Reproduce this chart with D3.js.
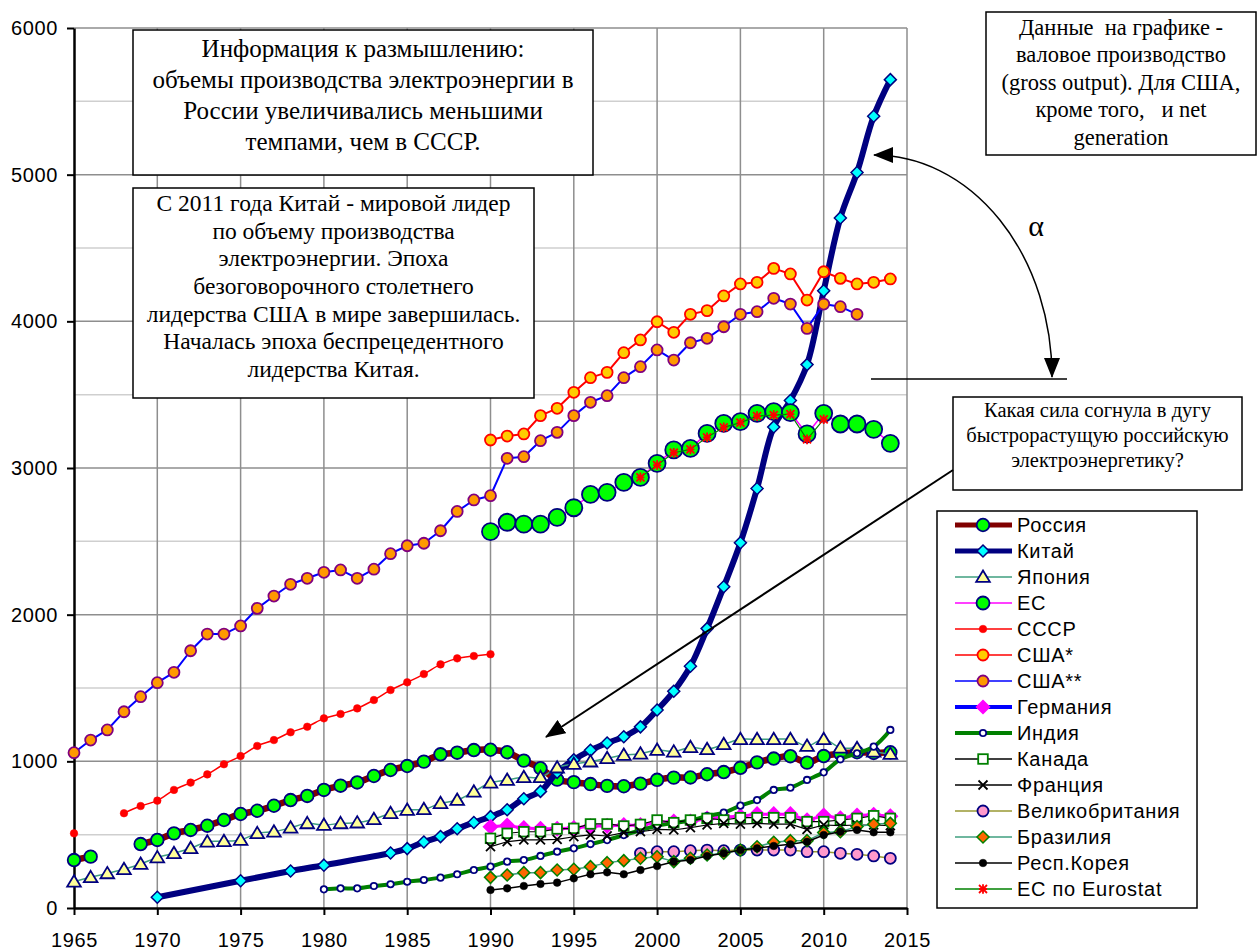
<!DOCTYPE html>
<html>
<head>
<meta charset="utf-8">
<script src="https://cdn.jsdelivr.net/npm/d3@7"></script>
<style>
  body { margin: 0; background: #fff; }
  svg { display: block; }
</style>
</head>
<body>
<div id="chart"></div>
<script>
// ---- data (TWh) ----
const xTicks = [1965, 1970, 1975, 1980, 1985, 1990, 1995, 2000, 2005, 2010, 2015];
const yTicks = [0, 1000, 2000, 3000, 4000, 5000, 6000];
const yMinor = [500, 1500, 2500, 3500, 4500, 5500];

const russia = [327, 350, null, null, 436, 464, 509, 532, 561, 600, 641, 663, 697, 736, 764, 805, 834, 856, 900, 941,
  968, 998, 1048, 1059, 1077, 1079, 1062, 1005, 953, 875, 858, 845, 833, 830, 848, 874, 889, 890, 912, 927,
  956, 993, 1019, 1035, 991, 1036, 1053, 1062, 1057, 1062]; // 1965..2014
const chinaYears = [1970, 1975, 1978, 1980, 1984, 1985, 1986, 1987, 1988, 1989, 1990, 1991, 1992, 1993, 1994, 1995,
  1996, 1997, 1998, 1999, 2000, 2001, 2002, 2003, 2004, 2005, 2006, 2007, 2008, 2009, 2010, 2011, 2012, 2013, 2014];
const china = [73, 186, 252, 292, 375, 405, 450, 487, 540, 583, 623, 670, 745, 795, 925, 1010,
  1075, 1125, 1168, 1235, 1350, 1478, 1648, 1905, 2190, 2490, 2860, 3280, 3460, 3705, 4208, 4705, 5015, 5398, 5648];
const japan = [179, 209, 236, 264, 300, 345, 373, 407, 452, 455, 464, 509, 520, 547, 577, 566, 577, 582, 605, 646,
  668, 673, 714, 736, 793, 854, 873, 891, 891, 957, 982, 998, 1021, 1043, 1052, 1077, 1066, 1096, 1082, 1116,
  1150, 1150, 1150, 1150, 1105, 1150, 1093, 1089, 1066, 1050]; // 1965..2014
const eu = [2566, 2630, 2618, 2618, 2664, 2729, 2820, 2834, 2902, 2936, 3032, 3123, 3134, 3236, 3304, 3316,
  3373, 3384, 3377, 3232, 3373, 3300, 3300, 3264, 3168]; // 1990..2014
const ussr = [509, null, null, 646, 695, 732, 805, 855, 911, 980, 1036, 1105, 1145, 1198, 1236, 1293, 1323, 1361,
  1418, 1486, 1539, 1595, 1661, 1702, 1718, 1730]; // 1965..1990
const usaGross = [3191, 3218, 3232, 3357, 3407, 3516, 3616, 3652, 3786, 3873, 3997, 3925, 4048, 4073, 4173, 4255,
  4266, 4361, 4323, 4145, 4338, 4293, 4255, 4266, 4289]; // 1990..2014
const usaNet = [1059, 1145, 1214, 1338, 1441, 1536, 1607, 1754, 1868, 1868, 1923, 2043, 2127, 2207, 2248, 2289,
  2305, 2248, 2310, 2416, 2470, 2487, 2572, 2704, 2782, 2811, 3066, 3077, 3186, 3243, 3357, 3448, 3493, 3616,
  3691, 3805, 3736, 3854, 3884, 3963, 4048, 4066, 4157, 4118, 3952, 4118, 4100, 4048]; // 1965..2012
const germany = [554, 562, 545, 540, 540, 545, 558, 560, 565, 565, 582, 590, 590, 610, 620, 625, 640, 640, 640,
  598, 630, 612, 630, 635, 625]; // 1990..2014
const india = [127, 134, 134, 150, 162, 179, 191, 207, 230, 259, 282, 316, 327, 355, 384, 407, 436, 463, 497, 530,
  561, 579, 597, 627, 650, 698, 736, 805, 820, 873, 925, 1014, 1055, 1100, 1214]; // 1980..2014
const canada = [475, 509, 520, 520, 539, 543, 573, 573, 559, 570, 600, 582, 600, 611, 600, 616, 616, 616, 616,
  589, 589, 600, 611, 629, 611]; // 1990..2014
const france = [418, 452, 464, 464, 468, 486, 498, 491, 514, 520, 536, 532, 548, 566, 577, 572, 577, 572, 572,
  536, 566, 561, 566, 566, 561]; // 1990..2014
const uk = [373, 384, 384, 391, 395, 391, 395, 395, 395, 395, 384, 384, 373, 366, 355, 339]; // 1999..2014
const brazil = [209, 225, 241, 241, 259, 264, 282, 309, 323, 339, 350, 316, 339, 361, 373, 395, 418, 448, 459,
  459, 514, 520, 555, 571, 577]; // 1990..2014
const korea = [123, 134, 150, 164, 173, 202, 230, 243, 230, 259, 286, 316, 327, 355, 373, 395, 407, 423, 434,
  452, 498, 520, 532, 516, 516]; // 1990..2014
const euEurostat = [2936, 3020, 3104, 3127, 3209, 3277, 3309, 3354, 3361, 3368, 3195, 3332]; // 1999..2010

const series = [
  { name: "Россия", start: 1965, values: russia, line: "#800000", lw: 6.5, smooth: true,
    mk: "circle", size: 6.3, fill: "#00ff00", stroke: "#000080", lgLw: 5 },
  { name: "Китай", years: chinaYears, values: china, line: "#000080", lw: 6, smooth: true,
    mk: "diamond", size: 6, fill: "#00ffff", stroke: "#000080", lgLw: 5 },
  { name: "Япония", start: 1965, values: japan, line: "#3f9f7f", lw: 1.5, smooth: true,
    mk: "triangle", size: 6.5, fill: "#ffff99", stroke: "#000080" },
  { name: "ЕС", start: 1990, values: eu, line: "#ff00ff", lw: 1.5,
    mk: "circle", size: 8.5, fill: "#00ff00", stroke: "#000080", lgSize: 6.5 },
  { name: "СССР", start: 1965, values: ussr, line: "#ff0000", lw: 1.5, smooth: true,
    mk: "dot", size: 3.8, fill: "#ff0000", stroke: "#ff0000" },
  { name: "США*", start: 1990, values: usaGross, line: "#ff0000", lw: 2,
    mk: "circle", size: 5.5, fill: "#ffcc00", stroke: "#ff0000" },
  { name: "США**", start: 1965, values: usaNet, line: "#0000ff", lw: 2,
    mk: "circle", size: 5.5, fill: "#ff9900", stroke: "#800080" },
  { name: "Германия", start: 1990, values: germany, line: "#ff00ff", lw: 3, lgLine: "#0000ff",
    mk: "diamond", size: 7, fill: "#ff00ff", stroke: "#ff00ff", lgLw: 4 },
  { name: "Индия", start: 1980, values: india, line: "#008000", lw: 4, smooth: true,
    mk: "circle", size: 3.2, fill: "#ffffff", stroke: "#000080", lgLw: 4 },
  { name: "Канада", start: 1990, values: canada, line: "#000000", lw: 1.2,
    mk: "square", size: 4.8, fill: "#ffffff", stroke: "#008000" },
  { name: "Франция", start: 1990, values: france, line: "#000000", lw: 1.2,
    mk: "x", size: 4.5, fill: "none", stroke: "#000000" },
  { name: "Великобритания", start: 1999, values: uk, line: "#999933", lw: 1.5,
    mk: "circle", size: 5.5, fill: "#ff99cc", stroke: "#000080" },
  { name: "Бразилия", start: 1990, values: brazil, line: "#3f9f7f", lw: 1.5,
    mk: "diamond", size: 6, fill: "#ff6600", stroke: "#008000" },
  { name: "Респ.Корея", start: 1990, values: korea, line: "#000000", lw: 1.5,
    mk: "dot", size: 3.8, fill: "#000000", stroke: "#000000" },
  { name: "ЕС по Eurostat", start: 1999, values: euEurostat, line: "#008000", lw: 1.2,
    mk: "asterisk", size: 4, fill: "none", stroke: "#ff0000" }
];

// ---- layout ----
const W = 1258, H = 951;
const x = d3.scaleLinear().domain([1965, 2015]).range([74, 907]);
const y = d3.scaleLinear().domain([0, 6000]).range([908, 28]);

const svg = d3.select("#chart").append("svg")
  .attr("width", W).attr("height", H)
  .style("font-family", "'Liberation Sans', Arial, sans-serif");

const defs = svg.append("defs");
defs.append("marker")
  .attr("id", "arrow")
  .attr("viewBox", "0 0 20 16")
  .attr("refX", 19).attr("refY", 8)
  .attr("markerWidth", 20).attr("markerHeight", 16)
  .attr("markerUnits", "userSpaceOnUse")
  .attr("orient", "auto-start-reverse")
  .append("path").attr("d", "M0,0 L20,8 L0,16 Z").attr("fill", "#000");

// grid
svg.append("g").selectAll("line").data(yMinor).enter().append("line")
  .attr("x1", x(1965)).attr("x2", x(2015))
  .attr("y1", d => y(d)).attr("y2", d => y(d))
  .attr("stroke", "#cfcfcf").attr("stroke-width", 1.5);
svg.append("g").selectAll("line").data(yTicks.slice(1)).enter().append("line")
  .attr("x1", x(1965)).attr("x2", x(2015))
  .attr("y1", d => y(d)).attr("y2", d => y(d))
  .attr("stroke", "#8e8e8e").attr("stroke-width", 1.5);
svg.append("g").selectAll("line").data(xTicks.slice(1)).enter().append("line")
  .attr("x1", d => x(d)).attr("x2", d => x(d))
  .attr("y1", y(0)).attr("y2", y(6000))
  .attr("stroke", "#8e8e8e").attr("stroke-width", 1.5);

// axes
const yAxis = svg.append("g")
  .attr("transform", `translate(${x(1965)},0)`)
  .call(d3.axisLeft(y).tickValues(yTicks).tickFormat(d3.format("d"))
    .tickSize(7).tickSizeOuter(0).tickPadding(9));
const xAxis = svg.append("g")
  .attr("transform", `translate(0,${y(0)})`)
  .call(d3.axisBottom(x).tickValues(xTicks).tickFormat(d3.format("d"))
    .tickSize(7).tickSizeOuter(0).tickPadding(18));
[yAxis, xAxis].forEach(a => {
  a.select(".domain").attr("stroke", "#000").attr("stroke-width", 2.5);
  a.selectAll(".tick line").attr("stroke", "#000").attr("stroke-width", 2);
  a.selectAll(".tick text").attr("fill", "#000")
    .style("font-size", "20px").style("font-family", "'Liberation Sans', Arial, sans-serif")
    .style("letter-spacing", "0.6px");
});

// ---- marker drawing ----
function drawMarker(g, s, size) {
  const r = size;
  if (s.mk === "circle" || s.mk === "dot") {
    g.append("circle").attr("r", r).attr("fill", s.fill)
      .attr("stroke", s.stroke).attr("stroke-width", s.mk === "dot" ? 0.5 : 1.8);
  } else if (s.mk === "diamond") {
    g.append("path").attr("d", `M0,${-r}L${r},0L0,${r}L${-r},0Z`)
      .attr("fill", s.fill).attr("stroke", s.stroke).attr("stroke-width", 1.5);
  } else if (s.mk === "triangle") {
    g.append("path").attr("d", `M0,${-r}L${r * 1.05},${r * 0.75}L${-r * 1.05},${r * 0.75}Z`)
      .attr("fill", s.fill).attr("stroke", s.stroke).attr("stroke-width", 1.8);
  } else if (s.mk === "square") {
    g.append("rect").attr("x", -r).attr("y", -r).attr("width", 2 * r).attr("height", 2 * r)
      .attr("fill", s.fill).attr("stroke", s.stroke).attr("stroke-width", 1.8);
  } else if (s.mk === "x") {
    g.append("path").attr("d", `M${-r},${-r}L${r},${r}M${r},${-r}L${-r},${r}`)
      .attr("fill", "none").attr("stroke", s.stroke).attr("stroke-width", 1.8);
  } else if (s.mk === "asterisk") {
    g.append("path").attr("d", `M${-r},${-r}L${r},${r}M${r},${-r}L${-r},${r}M0,${-r * 1.2}L0,${r * 1.2}M${-r},0L${r},0`)
      .attr("fill", "none").attr("stroke", s.stroke).attr("stroke-width", 1.8);
  }
}

// ---- series ----
series.forEach(s => {
  const pts = s.values.map((v, i) => ({ year: s.years ? s.years[i] : s.start + i, value: v }));
  const line = d3.line()
    .defined(d => d.value !== null)
    .x(d => x(d.year)).y(d => y(d.value))
    .curve(s.smooth ? d3.curveCatmullRom.alpha(0.5) : d3.curveLinear);
  const g = svg.append("g");
  g.append("path").datum(pts)
    .attr("d", line)
    .attr("fill", "none").attr("stroke", s.line).attr("stroke-width", s.lw)
    .attr("stroke-linejoin", "round").attr("stroke-linecap", "round");
  g.selectAll("g.pt").data(pts.filter(d => d.value !== null)).enter().append("g")
    .attr("class", "pt")
    .attr("transform", d => `translate(${x(d.year)},${y(d.value)})`)
    .each(function () { drawMarker(d3.select(this), s, s.size); });
});

// ---- legend ----
const legend = svg.append("g");
legend.append("rect").attr("x", 937).attr("y", 511).attr("width", 260).attr("height", 397)
  .attr("fill", "#fff").attr("stroke", "#000").attr("stroke-width", 1.5);
series.forEach((s, i) => {
  const ly = 525 + i * 26;
  const row = legend.append("g");
  row.append("line").attr("x1", 955).attr("x2", 1012).attr("y1", ly).attr("y2", ly)
    .attr("stroke", s.lgLine || s.line).attr("stroke-width", s.lgLw || 1.5);
  const m = row.append("g").attr("transform", `translate(983,${ly})`);
  drawMarker(m, s, s.lgSize || Math.min(s.size, 6.5));
  row.append("text").attr("x", 1017).attr("y", ly).attr("dy", "0.36em")
    .style("font-size", "20px").style("letter-spacing", "0.7px")
    .text(s.name);
});

// ---- annotations ----
function textBox(bx, by, bw, bh, lines, fs, firstY, lh) {
  const g = svg.append("g");
  g.append("rect").attr("x", bx).attr("y", by).attr("width", bw).attr("height", bh)
    .attr("fill", "#fff").attr("stroke", "#000").attr("stroke-width", 1.5);
  lines.forEach((t, i) => {
    g.append("text").attr("x", bx + bw / 2).attr("y", firstY + i * lh).attr("dy", "0.35em")
      .attr("text-anchor", "middle")
      .style("font-family", "'Liberation Serif', 'Times New Roman', serif")
      .style("font-size", fs + "px").style("white-space", "pre")
      .text(t);
  });
}

textBox(133, 30, 460, 145, [
  "Информация к размышлению:",
  "объемы производства электроэнергии в",
  "России увеличивались меньшими",
  "темпами, чем в СССР."
], 25, 48, 31.2);

textBox(133, 188, 401, 210, [
  "С 2011 года Китай - мировой лидер",
  "по объему производства",
  "электроэнергии. Эпоха",
  "безоговорочного столетнего",
  "лидерства США в мире завершилась.",
  "Началась эпоха беспрецедентного",
  "лидерства Китая."
], 23.5, 203, 27.6);

textBox(986, 12, 270, 143, [
  "Данные  на графике -",
  "валовое производство",
  "(gross output). Для США,",
  "кроме того,   и net",
  "generation"
], 22.5, 27, 27.5);

textBox(953, 397, 289, 93, [
  "Какая сила согнула в дугу",
  "быстрорастущую российскую",
  "электроэнергетику?"
], 20.5, 410, 25);

// curved arrow and lines
svg.append("path")
  .attr("d", "M874,155 A178,222 0 0 1 1052,377")
  .attr("fill", "none").attr("stroke", "#000").attr("stroke-width", 1.5)
  .attr("marker-start", "url(#arrow)").attr("marker-end", "url(#arrow)");
svg.append("line").attr("x1", 871).attr("x2", 1067).attr("y1", 379).attr("y2", 379)
  .attr("stroke", "#000").attr("stroke-width", 1.5);
svg.append("line").attr("x1", 953).attr("y1", 470).attr("x2", 546).attr("y2", 737)
  .attr("stroke", "#000").attr("stroke-width", 2)
  .attr("marker-end", "url(#arrow)");
svg.append("text").attr("x", 1036).attr("y", 227).attr("dy", "0.3em")
  .attr("text-anchor", "middle")
  .style("font-family", "'Liberation Serif', 'Times New Roman', serif")
  .style("font-size", "30px").text("α");
</script>
</body>
</html>
